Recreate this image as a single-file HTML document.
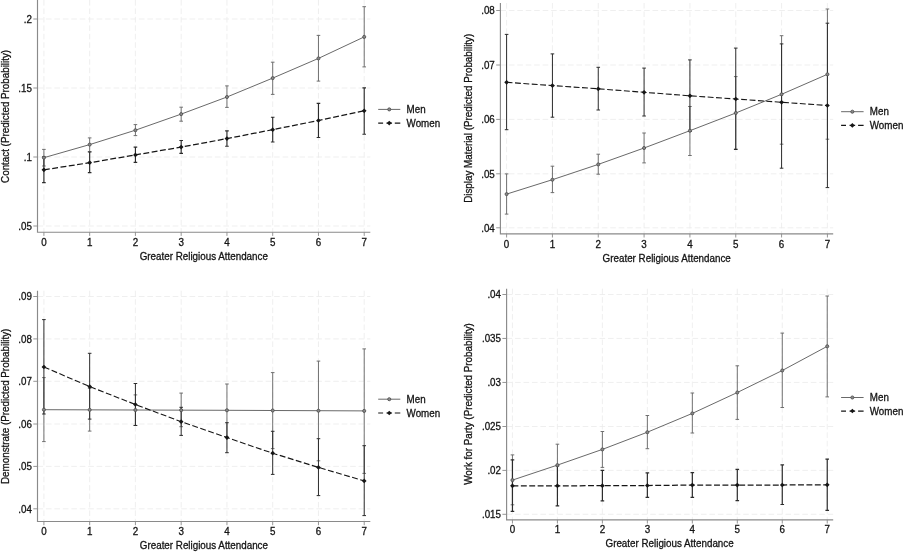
<!DOCTYPE html>
<html lang="en"><head><meta charset="utf-8"><title>Predicted probabilities by religious attendance</title>
<style>html,body{margin:0;padding:0;background:#fff}body{width:906px;height:553px;overflow:hidden}svg{display:block;will-change:transform}text{stroke:#141414;stroke-width:.3px}</style>
</head><body>
<svg width="906" height="553" viewBox="0 0 906 553" font-family="'Liberation Sans', Arial, sans-serif" fill="#141414">
<rect width="906" height="553" fill="#fff"/>
<path d="M37.5 19H370.3M37.5 88H370.3M37.5 157H370.3M37.5 226H370.3M43.9 0V232.2M89.66 0V232.2M135.42 0V232.2M181.18 0V232.2M226.94 0V232.2M272.7 0V232.2M318.46 0V232.2M364.22 0V232.2" stroke="#ebebeb" stroke-width="0.8" stroke-dasharray="5.6 2.85" fill="none"/>
<path d="M37.5 0V232.2H370.3" stroke="#8a8a8a" stroke-width="1.15" fill="none"/>
<path d="M33.3 19H37.5M33.3 88H37.5M33.3 157H37.5M33.3 226H37.5M43.9 232.2V235.9M89.66 232.2V235.9M135.42 232.2V235.9M181.18 232.2V235.9M226.94 232.2V235.9M272.7 232.2V235.9M318.46 232.2V235.9M364.22 232.2V235.9" stroke="#8a8a8a" stroke-width="0.9" fill="none"/>
<g font-size="9.8" text-anchor="end">
<text font-size="10.29" text-anchor="end" transform="translate(31.9 22.7) scale(0.952 1)">.2</text>
<text font-size="10.29" text-anchor="end" transform="translate(31.9 91.7) scale(0.952 1)">.15</text>
<text font-size="10.29" text-anchor="end" transform="translate(31.9 160.7) scale(0.952 1)">.1</text>
<text font-size="10.29" text-anchor="end" transform="translate(31.9 229.7) scale(0.952 1)">.05</text>
</g>
<g font-size="9.8" text-anchor="middle">
<text font-size="10.29" text-anchor="middle" transform="translate(43.9 245.7) scale(0.952 1)">0</text>
<text font-size="10.29" text-anchor="middle" transform="translate(89.66 245.7) scale(0.952 1)">1</text>
<text font-size="10.29" text-anchor="middle" transform="translate(135.42 245.7) scale(0.952 1)">2</text>
<text font-size="10.29" text-anchor="middle" transform="translate(181.18 245.7) scale(0.952 1)">3</text>
<text font-size="10.29" text-anchor="middle" transform="translate(226.94 245.7) scale(0.952 1)">4</text>
<text font-size="10.29" text-anchor="middle" transform="translate(272.7 245.7) scale(0.952 1)">5</text>
<text font-size="10.29" text-anchor="middle" transform="translate(318.46 245.7) scale(0.952 1)">6</text>
<text font-size="10.29" text-anchor="middle" transform="translate(364.22 245.7) scale(0.952 1)">7</text>
</g>
<text font-size="10.51" text-anchor="middle" transform="translate(203.8 259.7) scale(0.935 1)">Greater Religious Attendance</text>
<text font-size="10.51" text-anchor="middle" transform="translate(8.9 116.4) rotate(-90) scale(0.935 1)">Contact (Predicted Probability)</text>
<path d="M43.9 149.4V166M42.1 149.4h3.6M42.1 166h3.6M89.66 137.9V151.6M87.86 137.9h3.6M87.86 151.6h3.6M135.42 124.6V135.6M133.62 124.6h3.6M133.62 135.6h3.6M181.18 107.2V121.2M179.38 107.2h3.6M179.38 121.2h3.6M226.94 85.9V107.4M225.14 85.9h3.6M225.14 107.4h3.6M272.7 62.2V94.4M270.9 62.2h3.6M270.9 94.4h3.6M318.46 35.4V81.1M316.66 35.4h3.6M316.66 81.1h3.6M364.22 6.7V66.9M362.42 6.7h3.6M362.42 66.9h3.6" stroke="#696969" stroke-width="0.95" fill="none"/>
<path d="M43.9 156.8V182.6M42.1 156.8h3.6M42.1 182.6h3.6M89.66 152V172.6M87.86 152h3.6M87.86 172.6h3.6M135.42 147.1V162.3M133.62 147.1h3.6M133.62 162.3h3.6M181.18 140.5V153.3M179.38 140.5h3.6M179.38 153.3h3.6M226.94 130.8V146.2M225.14 130.8h3.6M225.14 146.2h3.6M272.7 117.2V142M270.9 117.2h3.6M270.9 142h3.6M318.46 103.3V137.5M316.66 103.3h3.6M316.66 137.5h3.6M364.22 87.8V134.2M362.42 87.8h3.6M362.42 134.2h3.6" stroke="#2c2c2c" stroke-width="1.15" fill="none"/>
<polyline points="43.9,157.7 89.66,144.6 135.42,130.2 181.18,114.1 226.94,97 272.7,78.1 318.46,58.4 364.22,36.9" stroke="#696969" stroke-width="1.0" fill="none"/>
<circle cx="43.9" cy="157.7" r="1.55" fill="#8a8a8a" stroke="#4e4e4e" stroke-width="0.85"/>
<circle cx="89.66" cy="144.6" r="1.55" fill="#8a8a8a" stroke="#4e4e4e" stroke-width="0.85"/>
<circle cx="135.42" cy="130.2" r="1.55" fill="#8a8a8a" stroke="#4e4e4e" stroke-width="0.85"/>
<circle cx="181.18" cy="114.1" r="1.55" fill="#8a8a8a" stroke="#4e4e4e" stroke-width="0.85"/>
<circle cx="226.94" cy="97" r="1.55" fill="#8a8a8a" stroke="#4e4e4e" stroke-width="0.85"/>
<circle cx="272.7" cy="78.1" r="1.55" fill="#8a8a8a" stroke="#4e4e4e" stroke-width="0.85"/>
<circle cx="318.46" cy="58.4" r="1.55" fill="#8a8a8a" stroke="#4e4e4e" stroke-width="0.85"/>
<circle cx="364.22" cy="36.9" r="1.55" fill="#8a8a8a" stroke="#4e4e4e" stroke-width="0.85"/>
<polyline points="43.9,169.8 89.66,162.7 135.42,154.9 181.18,147.1 226.94,138.6 272.7,129.7 318.46,120.5 364.22,110.8" stroke="#161616" stroke-width="1.25" fill="none" stroke-dasharray="5.9 2.5"/>
<path d="M41.55 169.8L43.9 167.45L46.25 169.8L43.9 172.15Z" fill="#161616"/>
<path d="M87.31 162.7L89.66 160.35L92.01 162.7L89.66 165.05Z" fill="#161616"/>
<path d="M133.07 154.9L135.42 152.55L137.77 154.9L135.42 157.25Z" fill="#161616"/>
<path d="M178.83 147.1L181.18 144.75L183.53 147.1L181.18 149.45Z" fill="#161616"/>
<path d="M224.59 138.6L226.94 136.25L229.29 138.6L226.94 140.95Z" fill="#161616"/>
<path d="M270.35 129.7L272.7 127.35L275.05 129.7L272.7 132.05Z" fill="#161616"/>
<path d="M316.11 120.5L318.46 118.15L320.81 120.5L318.46 122.85Z" fill="#161616"/>
<path d="M361.87 110.8L364.22 108.45L366.57 110.8L364.22 113.15Z" fill="#161616"/>
<path d="M378.2 109.4H400.3" stroke="#696969" stroke-width="1"/>
<circle cx="389.25" cy="109.4" r="1.55" fill="#8a8a8a" stroke="#4e4e4e" stroke-width="0.85"/>
<path d="M378.2 123.1h4.9M386.45 123.1h5.6M394.8 123.1H400.3" stroke="#161616" stroke-width="1.25"/>
<path d="M386.9 123.1L389.25 120.75L391.6 123.1L389.25 125.45Z" fill="#161616"/>
<text font-size="10" transform="translate(406.6 113.1) scale(0.98 1)">Men</text>
<text font-size="10" transform="translate(406.6 126.8) scale(0.98 1)">Women</text>
<path d="M500.4 10.5H833.2M500.4 65H833.2M500.4 119.4H833.2M500.4 173.8H833.2M500.4 227.8H833.2M506.6 3V233.8M552.43 3V233.8M598.26 3V233.8M644.09 3V233.8M689.92 3V233.8M735.75 3V233.8M781.58 3V233.8M827.41 3V233.8" stroke="#ebebeb" stroke-width="0.8" stroke-dasharray="5.6 2.85" fill="none"/>
<path d="M500.4 3V233.8H833.2" stroke="#8a8a8a" stroke-width="1.15" fill="none"/>
<path d="M496.2 10.5H500.4M496.2 65H500.4M496.2 119.4H500.4M496.2 173.8H500.4M496.2 227.8H500.4M506.6 233.8V237.5M552.43 233.8V237.5M598.26 233.8V237.5M644.09 233.8V237.5M689.92 233.8V237.5M735.75 233.8V237.5M781.58 233.8V237.5M827.41 233.8V237.5" stroke="#8a8a8a" stroke-width="0.9" fill="none"/>
<g font-size="9.8" text-anchor="end">
<text font-size="10.29" text-anchor="end" transform="translate(494.8 14.2) scale(0.952 1)">.08</text>
<text font-size="10.29" text-anchor="end" transform="translate(494.8 68.7) scale(0.952 1)">.07</text>
<text font-size="10.29" text-anchor="end" transform="translate(494.8 123.1) scale(0.952 1)">.06</text>
<text font-size="10.29" text-anchor="end" transform="translate(494.8 177.5) scale(0.952 1)">.05</text>
<text font-size="10.29" text-anchor="end" transform="translate(494.8 231.5) scale(0.952 1)">.04</text>
</g>
<g font-size="9.8" text-anchor="middle">
<text font-size="10.29" text-anchor="middle" transform="translate(506.6 247.6) scale(0.952 1)">0</text>
<text font-size="10.29" text-anchor="middle" transform="translate(552.43 247.6) scale(0.952 1)">1</text>
<text font-size="10.29" text-anchor="middle" transform="translate(598.26 247.6) scale(0.952 1)">2</text>
<text font-size="10.29" text-anchor="middle" transform="translate(644.09 247.6) scale(0.952 1)">3</text>
<text font-size="10.29" text-anchor="middle" transform="translate(689.92 247.6) scale(0.952 1)">4</text>
<text font-size="10.29" text-anchor="middle" transform="translate(735.75 247.6) scale(0.952 1)">5</text>
<text font-size="10.29" text-anchor="middle" transform="translate(781.58 247.6) scale(0.952 1)">6</text>
<text font-size="10.29" text-anchor="middle" transform="translate(827.41 247.6) scale(0.952 1)">7</text>
</g>
<text font-size="10.51" text-anchor="middle" transform="translate(666.7 261.6) scale(0.935 1)">Greater Religious Attendance</text>
<text font-size="10.51" text-anchor="middle" transform="translate(471.8 118.3) rotate(-90) scale(0.935 1)">Display Material (Predicted Probability)</text>
<path d="M506.6 173.9V214.1M504.8 173.9h3.6M504.8 214.1h3.6M552.43 166.2V192.6M550.63 166.2h3.6M550.63 192.6h3.6M598.26 154.2V174.2M596.46 154.2h3.6M596.46 174.2h3.6M644.09 133V162.9M642.29 133h3.6M642.29 162.9h3.6M689.92 106.5V155.5M688.12 106.5h3.6M688.12 155.5h3.6M735.75 76.6V149M733.95 76.6h3.6M733.95 149h3.6M781.58 35.7V144.2M779.78 35.7h3.6M779.78 144.2h3.6M827.41 9V139.2M825.61 9h3.6M825.61 139.2h3.6" stroke="#696969" stroke-width="0.95" fill="none"/>
<path d="M506.6 34.4V129.7M504.8 34.4h3.6M504.8 129.7h3.6M552.43 53.9V117.2M550.63 53.9h3.6M550.63 117.2h3.6M598.26 67.3V110M596.46 67.3h3.6M596.46 110h3.6M644.09 68.1V116M642.29 68.1h3.6M642.29 116h3.6M689.92 59.9V131.5M688.12 59.9h3.6M688.12 131.5h3.6M735.75 48.1V149.5M733.95 48.1h3.6M733.95 149.5h3.6M781.58 43.9V168.2M779.78 43.9h3.6M779.78 168.2h3.6M827.41 23.2V187.6M825.61 23.2h3.6M825.61 187.6h3.6" stroke="#2c2c2c" stroke-width="1.0" fill="none"/>
<polyline points="506.6,194.1 552.43,179.7 598.26,164.4 644.09,148 689.92,130.7 735.75,113 781.58,94.3 827.41,74.3" stroke="#696969" stroke-width="1.0" fill="none"/>
<circle cx="506.6" cy="194.1" r="1.55" fill="#8a8a8a" stroke="#4e4e4e" stroke-width="0.85"/>
<circle cx="552.43" cy="179.7" r="1.55" fill="#8a8a8a" stroke="#4e4e4e" stroke-width="0.85"/>
<circle cx="598.26" cy="164.4" r="1.55" fill="#8a8a8a" stroke="#4e4e4e" stroke-width="0.85"/>
<circle cx="644.09" cy="148" r="1.55" fill="#8a8a8a" stroke="#4e4e4e" stroke-width="0.85"/>
<circle cx="689.92" cy="130.7" r="1.55" fill="#8a8a8a" stroke="#4e4e4e" stroke-width="0.85"/>
<circle cx="735.75" cy="113" r="1.55" fill="#8a8a8a" stroke="#4e4e4e" stroke-width="0.85"/>
<circle cx="781.58" cy="94.3" r="1.55" fill="#8a8a8a" stroke="#4e4e4e" stroke-width="0.85"/>
<circle cx="827.41" cy="74.3" r="1.55" fill="#8a8a8a" stroke="#4e4e4e" stroke-width="0.85"/>
<polyline points="506.6,82.3 552.43,85.6 598.26,88.8 644.09,92.3 689.92,95.8 735.75,99 781.58,102.3 827.41,105.5" stroke="#161616" stroke-width="1.1" fill="none" stroke-dasharray="5.9 2.5"/>
<path d="M504.25 82.3L506.6 79.95L508.95 82.3L506.6 84.65Z" fill="#161616"/>
<path d="M550.08 85.6L552.43 83.25L554.78 85.6L552.43 87.95Z" fill="#161616"/>
<path d="M595.91 88.8L598.26 86.45L600.61 88.8L598.26 91.15Z" fill="#161616"/>
<path d="M641.74 92.3L644.09 89.95L646.44 92.3L644.09 94.65Z" fill="#161616"/>
<path d="M687.57 95.8L689.92 93.45L692.27 95.8L689.92 98.15Z" fill="#161616"/>
<path d="M733.4 99L735.75 96.65L738.1 99L735.75 101.35Z" fill="#161616"/>
<path d="M779.23 102.3L781.58 99.95L783.93 102.3L781.58 104.65Z" fill="#161616"/>
<path d="M825.06 105.5L827.41 103.15L829.76 105.5L827.41 107.85Z" fill="#161616"/>
<path d="M841.1 111.7H863.6" stroke="#696969" stroke-width="1"/>
<circle cx="852.35" cy="111.7" r="1.55" fill="#8a8a8a" stroke="#4e4e4e" stroke-width="0.85"/>
<path d="M841.1 125.4h4.9M849.55 125.4h5.6M858.1 125.4H863.6" stroke="#161616" stroke-width="1.1"/>
<path d="M850 125.4L852.35 123.05L854.7 125.4L852.35 127.75Z" fill="#161616"/>
<text font-size="10" transform="translate(869.8 115.4) scale(0.98 1)">Men</text>
<text font-size="10" transform="translate(869.8 129.1) scale(0.98 1)">Women</text>
<path d="M37.5 296.5H370.3M37.5 338.9H370.3M37.5 381.3H370.3M37.5 424H370.3M37.5 466.4H370.3M37.5 508.8H370.3M43.9 290.7V521.5M89.66 290.7V521.5M135.42 290.7V521.5M181.18 290.7V521.5M226.94 290.7V521.5M272.7 290.7V521.5M318.46 290.7V521.5M364.22 290.7V521.5" stroke="#ebebeb" stroke-width="0.8" stroke-dasharray="5.6 2.85" fill="none"/>
<path d="M37.5 290.7V521.5H370.3" stroke="#8a8a8a" stroke-width="1.15" fill="none"/>
<path d="M33.3 296.5H37.5M33.3 338.9H37.5M33.3 381.3H37.5M33.3 424H37.5M33.3 466.4H37.5M33.3 508.8H37.5M43.9 521.5V525.2M89.66 521.5V525.2M135.42 521.5V525.2M181.18 521.5V525.2M226.94 521.5V525.2M272.7 521.5V525.2M318.46 521.5V525.2M364.22 521.5V525.2" stroke="#8a8a8a" stroke-width="0.9" fill="none"/>
<g font-size="9.8" text-anchor="end">
<text font-size="10.29" text-anchor="end" transform="translate(31.9 300.2) scale(0.952 1)">.09</text>
<text font-size="10.29" text-anchor="end" transform="translate(31.9 342.6) scale(0.952 1)">.08</text>
<text font-size="10.29" text-anchor="end" transform="translate(31.9 385) scale(0.952 1)">.07</text>
<text font-size="10.29" text-anchor="end" transform="translate(31.9 427.7) scale(0.952 1)">.06</text>
<text font-size="10.29" text-anchor="end" transform="translate(31.9 470.1) scale(0.952 1)">.05</text>
<text font-size="10.29" text-anchor="end" transform="translate(31.9 512.5) scale(0.952 1)">.04</text>
</g>
<g font-size="9.8" text-anchor="middle">
<text font-size="10.29" text-anchor="middle" transform="translate(43.9 535.2) scale(0.952 1)">0</text>
<text font-size="10.29" text-anchor="middle" transform="translate(89.66 535.2) scale(0.952 1)">1</text>
<text font-size="10.29" text-anchor="middle" transform="translate(135.42 535.2) scale(0.952 1)">2</text>
<text font-size="10.29" text-anchor="middle" transform="translate(181.18 535.2) scale(0.952 1)">3</text>
<text font-size="10.29" text-anchor="middle" transform="translate(226.94 535.2) scale(0.952 1)">4</text>
<text font-size="10.29" text-anchor="middle" transform="translate(272.7 535.2) scale(0.952 1)">5</text>
<text font-size="10.29" text-anchor="middle" transform="translate(318.46 535.2) scale(0.952 1)">6</text>
<text font-size="10.29" text-anchor="middle" transform="translate(364.22 535.2) scale(0.952 1)">7</text>
</g>
<text font-size="10.51" text-anchor="middle" transform="translate(203.9 548.7) scale(0.935 1)">Greater Religious Attendance</text>
<text font-size="10.51" text-anchor="middle" transform="translate(8.9 406.3) rotate(-90) scale(0.935 1)">Demonstrate (Predicted Probability)</text>
<path d="M43.9 377.6V441.6M42.1 377.6h3.6M42.1 441.6h3.6M89.66 388.3V431.1M87.86 388.3h3.6M87.86 431.1h3.6M135.42 394.9V425.4M133.62 394.9h3.6M133.62 425.4h3.6M181.18 393.1V426.7M179.38 393.1h3.6M179.38 426.7h3.6M226.94 384V437M225.14 384h3.6M225.14 437h3.6M272.7 372.6V448.6M270.9 372.6h3.6M270.9 448.6h3.6M318.46 361.1V460.8M316.66 361.1h3.6M316.66 460.8h3.6M364.22 348.9V473.4M362.42 348.9h3.6M362.42 473.4h3.6" stroke="#696969" stroke-width="0.95" fill="none"/>
<path d="M43.9 319.6V414M42.1 319.6h3.6M42.1 414h3.6M89.66 353.3V419.1M87.86 353.3h3.6M87.86 419.1h3.6M135.42 383.5V425.5M133.62 383.5h3.6M133.62 425.5h3.6M181.18 407.3V435.4M179.38 407.3h3.6M179.38 435.4h3.6M226.94 422.7V452.7M225.14 422.7h3.6M225.14 452.7h3.6M272.7 431.3V474.4M270.9 431.3h3.6M270.9 474.4h3.6M318.46 438.7V495.6M316.66 438.7h3.6M316.66 495.6h3.6M364.22 445.7V515.6M362.42 445.7h3.6M362.42 515.6h3.6" stroke="#2c2c2c" stroke-width="1.0" fill="none"/>
<polyline points="43.9,409.7 89.66,409.85 135.42,410 181.18,410.15 226.94,410.3 272.7,410.5 318.46,410.7 364.22,410.9" stroke="#696969" stroke-width="1.0" fill="none"/>
<circle cx="43.9" cy="409.7" r="1.55" fill="#8a8a8a" stroke="#4e4e4e" stroke-width="0.85"/>
<circle cx="89.66" cy="409.85" r="1.55" fill="#8a8a8a" stroke="#4e4e4e" stroke-width="0.85"/>
<circle cx="135.42" cy="410" r="1.55" fill="#8a8a8a" stroke="#4e4e4e" stroke-width="0.85"/>
<circle cx="181.18" cy="410.15" r="1.55" fill="#8a8a8a" stroke="#4e4e4e" stroke-width="0.85"/>
<circle cx="226.94" cy="410.3" r="1.55" fill="#8a8a8a" stroke="#4e4e4e" stroke-width="0.85"/>
<circle cx="272.7" cy="410.5" r="1.55" fill="#8a8a8a" stroke="#4e4e4e" stroke-width="0.85"/>
<circle cx="318.46" cy="410.7" r="1.55" fill="#8a8a8a" stroke="#4e4e4e" stroke-width="0.85"/>
<circle cx="364.22" cy="410.9" r="1.55" fill="#8a8a8a" stroke="#4e4e4e" stroke-width="0.85"/>
<polyline points="43.9,367 89.66,386.6 135.42,404.5 181.18,421.7 226.94,437.6 272.7,453.2 318.46,467.4 364.22,480.9" stroke="#161616" stroke-width="1.1" fill="none" stroke-dasharray="5.9 2.5"/>
<path d="M41.55 367L43.9 364.65L46.25 367L43.9 369.35Z" fill="#161616"/>
<path d="M87.31 386.6L89.66 384.25L92.01 386.6L89.66 388.95Z" fill="#161616"/>
<path d="M133.07 404.5L135.42 402.15L137.77 404.5L135.42 406.85Z" fill="#161616"/>
<path d="M178.83 421.7L181.18 419.35L183.53 421.7L181.18 424.05Z" fill="#161616"/>
<path d="M224.59 437.6L226.94 435.25L229.29 437.6L226.94 439.95Z" fill="#161616"/>
<path d="M270.35 453.2L272.7 450.85L275.05 453.2L272.7 455.55Z" fill="#161616"/>
<path d="M316.11 467.4L318.46 465.05L320.81 467.4L318.46 469.75Z" fill="#161616"/>
<path d="M361.87 480.9L364.22 478.55L366.57 480.9L364.22 483.25Z" fill="#161616"/>
<path d="M378.2 399.2H400.3" stroke="#696969" stroke-width="1"/>
<circle cx="389.25" cy="399.2" r="1.55" fill="#8a8a8a" stroke="#4e4e4e" stroke-width="0.85"/>
<path d="M378.2 413h4.9M386.45 413h5.6M394.8 413H400.3" stroke="#161616" stroke-width="1.1"/>
<path d="M386.9 413L389.25 410.65L391.6 413L389.25 415.35Z" fill="#161616"/>
<text font-size="10" transform="translate(406.6 402.9) scale(0.98 1)">Men</text>
<text font-size="10" transform="translate(406.6 416.7) scale(0.98 1)">Women</text>
<path d="M506.6 294.5H833.2M506.6 338.45H833.2M506.6 382.45H833.2M506.6 426.5H833.2M506.6 470.4H833.2M506.6 514.3H833.2M512.45 288.7V519.8M557.42 288.7V519.8M602.39 288.7V519.8M647.36 288.7V519.8M692.33 288.7V519.8M737.3 288.7V519.8M782.27 288.7V519.8M827.24 288.7V519.8" stroke="#ebebeb" stroke-width="0.8" stroke-dasharray="5.6 2.85" fill="none"/>
<path d="M506.6 288.7V519.8H833.2" stroke="#8a8a8a" stroke-width="1.15" fill="none"/>
<path d="M502.4 294.5H506.6M502.4 338.45H506.6M502.4 382.45H506.6M502.4 426.5H506.6M502.4 470.4H506.6M502.4 514.3H506.6M512.45 519.8V523.5M557.42 519.8V523.5M602.39 519.8V523.5M647.36 519.8V523.5M692.33 519.8V523.5M737.3 519.8V523.5M782.27 519.8V523.5M827.24 519.8V523.5" stroke="#8a8a8a" stroke-width="0.9" fill="none"/>
<g font-size="9.8" text-anchor="end">
<text font-size="10.29" text-anchor="end" transform="translate(501 298.2) scale(0.952 1)">.04</text>
<text font-size="10.29" text-anchor="end" transform="translate(501 342.15) scale(0.952 1)">.035</text>
<text font-size="10.29" text-anchor="end" transform="translate(501 386.15) scale(0.952 1)">.03</text>
<text font-size="10.29" text-anchor="end" transform="translate(501 430.2) scale(0.952 1)">.025</text>
<text font-size="10.29" text-anchor="end" transform="translate(501 474.1) scale(0.952 1)">.02</text>
<text font-size="10.29" text-anchor="end" transform="translate(501 518) scale(0.952 1)">.015</text>
</g>
<g font-size="9.8" text-anchor="middle">
<text font-size="10.29" text-anchor="middle" transform="translate(512.45 533.4) scale(0.952 1)">0</text>
<text font-size="10.29" text-anchor="middle" transform="translate(557.42 533.4) scale(0.952 1)">1</text>
<text font-size="10.29" text-anchor="middle" transform="translate(602.39 533.4) scale(0.952 1)">2</text>
<text font-size="10.29" text-anchor="middle" transform="translate(647.36 533.4) scale(0.952 1)">3</text>
<text font-size="10.29" text-anchor="middle" transform="translate(692.33 533.4) scale(0.952 1)">4</text>
<text font-size="10.29" text-anchor="middle" transform="translate(737.3 533.4) scale(0.952 1)">5</text>
<text font-size="10.29" text-anchor="middle" transform="translate(782.27 533.4) scale(0.952 1)">6</text>
<text font-size="10.29" text-anchor="middle" transform="translate(827.24 533.4) scale(0.952 1)">7</text>
</g>
<text font-size="10.51" text-anchor="middle" transform="translate(669.6 546.9) scale(0.935 1)">Greater Religious Attendance</text>
<text font-size="10.51" text-anchor="middle" transform="translate(471.8 404) rotate(-90) scale(0.935 1)">Work for Party (Predicted Probability)</text>
<path d="M512.45 454.9V504.8M510.65 454.9h3.6M510.65 504.8h3.6M557.42 444.2V486M555.62 444.2h3.6M555.62 486h3.6M602.39 431.5V467.4M600.59 431.5h3.6M600.59 467.4h3.6M647.36 415.5V448.7M645.56 415.5h3.6M645.56 448.7h3.6M692.33 393V433M690.53 393h3.6M690.53 433h3.6M737.3 365.8V419.4M735.5 365.8h3.6M735.5 419.4h3.6M782.27 333.1V407.5M780.47 333.1h3.6M780.47 407.5h3.6M827.24 296V396.9M825.44 296h3.6M825.44 396.9h3.6" stroke="#696969" stroke-width="0.95" fill="none"/>
<path d="M512.45 459.9V511.3M510.65 459.9h3.6M510.65 511.3h3.6M557.42 465.8V505.8M555.62 465.8h3.6M555.62 505.8h3.6M602.39 470.4V500.8M600.59 470.4h3.6M600.59 500.8h3.6M647.36 472.9V497.3M645.56 472.9h3.6M645.56 497.3h3.6M692.33 472.6V497.3M690.53 472.6h3.6M690.53 497.3h3.6M737.3 469.4V500.6M735.5 469.4h3.6M735.5 500.6h3.6M782.27 464.9V504.5M780.47 464.9h3.6M780.47 504.5h3.6M827.24 459.2V510.3M825.44 459.2h3.6M825.44 510.3h3.6" stroke="#2c2c2c" stroke-width="1.2" fill="none"/>
<polyline points="512.45,480.1 557.42,465.1 602.39,449.4 647.36,432.2 692.33,413.4 737.3,392.5 782.27,370.5 827.24,346.3" stroke="#696969" stroke-width="1.0" fill="none"/>
<circle cx="512.45" cy="480.1" r="1.55" fill="#8a8a8a" stroke="#4e4e4e" stroke-width="0.85"/>
<circle cx="557.42" cy="465.1" r="1.55" fill="#8a8a8a" stroke="#4e4e4e" stroke-width="0.85"/>
<circle cx="602.39" cy="449.4" r="1.55" fill="#8a8a8a" stroke="#4e4e4e" stroke-width="0.85"/>
<circle cx="647.36" cy="432.2" r="1.55" fill="#8a8a8a" stroke="#4e4e4e" stroke-width="0.85"/>
<circle cx="692.33" cy="413.4" r="1.55" fill="#8a8a8a" stroke="#4e4e4e" stroke-width="0.85"/>
<circle cx="737.3" cy="392.5" r="1.55" fill="#8a8a8a" stroke="#4e4e4e" stroke-width="0.85"/>
<circle cx="782.27" cy="370.5" r="1.55" fill="#8a8a8a" stroke="#4e4e4e" stroke-width="0.85"/>
<circle cx="827.24" cy="346.3" r="1.55" fill="#8a8a8a" stroke="#4e4e4e" stroke-width="0.85"/>
<polyline points="512.45,485.8 557.42,485.8 602.39,485.7 647.36,485.5 692.33,485.1 737.3,485.1 782.27,485 827.24,484.8" stroke="#161616" stroke-width="1.25" fill="none" stroke-dasharray="5.9 2.5"/>
<path d="M510.1 485.8L512.45 483.45L514.8 485.8L512.45 488.15Z" fill="#161616"/>
<path d="M555.07 485.8L557.42 483.45L559.77 485.8L557.42 488.15Z" fill="#161616"/>
<path d="M600.04 485.7L602.39 483.35L604.74 485.7L602.39 488.05Z" fill="#161616"/>
<path d="M645.01 485.5L647.36 483.15L649.71 485.5L647.36 487.85Z" fill="#161616"/>
<path d="M689.98 485.1L692.33 482.75L694.68 485.1L692.33 487.45Z" fill="#161616"/>
<path d="M734.95 485.1L737.3 482.75L739.65 485.1L737.3 487.45Z" fill="#161616"/>
<path d="M779.92 485L782.27 482.65L784.62 485L782.27 487.35Z" fill="#161616"/>
<path d="M824.89 484.8L827.24 482.45L829.59 484.8L827.24 487.15Z" fill="#161616"/>
<path d="M841.1 397.5H863.6" stroke="#696969" stroke-width="1"/>
<circle cx="852.35" cy="397.5" r="1.55" fill="#8a8a8a" stroke="#4e4e4e" stroke-width="0.85"/>
<path d="M841.1 411h4.9M849.55 411h5.6M858.1 411H863.6" stroke="#161616" stroke-width="1.25"/>
<path d="M850 411L852.35 408.65L854.7 411L852.35 413.35Z" fill="#161616"/>
<text font-size="10" transform="translate(869.8 401.2) scale(0.98 1)">Men</text>
<text font-size="10" transform="translate(869.8 414.7) scale(0.98 1)">Women</text>
</svg>
</body></html>
